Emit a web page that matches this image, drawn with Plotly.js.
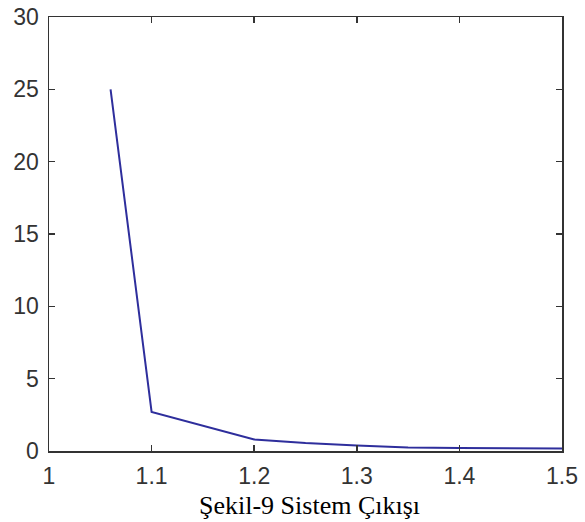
<!DOCTYPE html>
<html>
<head>
<meta charset="utf-8">
<script src="https://cdn.plot.ly/plotly-3.0.1.min.js"></script>
<style>html,body{margin:0;padding:0;background:#fff;}#chart{width:585px;height:522px;}</style>
</head>
<body>
<div id="chart"></div>
<script>
const xValues = [1.06, 1.1, 1.2, 1.25, 1.3, 1.35, 1.4, 1.5];
const yValues = [25.0, 2.7, 0.8, 0.55, 0.38, 0.25, 0.2, 0.18];
const xTicks = [1, 1.1, 1.2, 1.3, 1.4, 1.5];
const xTickLabels = ["1", "1.1", "1.2", "1.3", "1.4", "1.5"];
const yTicks = [0, 5, 10, 15, 20, 25, 30];
const yTickLabels = ["0", "5", "10", "15", "20", "25", "30"];
const caption = "Şekil-9 Sistem Çıkışı";

const axisCommon = {
  showgrid: false, zeroline: false, showline: true, mirror: 'ticks',
  linecolor: '#333', linewidth: 1.5, ticks: 'inside', ticklen: 6, tickwidth: 1.5,
  tickcolor: '#333', tickfont: {family: 'Liberation Sans, Arial, sans-serif', size: 23, color: '#333'},
  tickmode: 'array'
};

Plotly.newPlot('chart', [{
  x: xValues, y: yValues, type: 'scatter', mode: 'lines',
  line: {color: '#2e2e9c', width: 2}
}], {
  width: 585, height: 522,
  margin: {l: 49, r: 23, t: 17, b: 71},
  paper_bgcolor: '#fff', plot_bgcolor: '#fff',
  showlegend: false,
  xaxis: Object.assign({}, axisCommon, {range: [1, 1.5], tickvals: xTicks, ticktext: xTickLabels, ticklabelstandoff: 4}),
  yaxis: Object.assign({}, axisCommon, {range: [0, 30], tickvals: yTicks, ticktext: yTickLabels, ticklabelstandoff: 4}),
  annotations: [{
    text: caption, xref: 'paper', yref: 'paper', x: 0.508, y: 0, yshift: -38,
    xanchor: 'center', yanchor: 'top', showarrow: false,
    font: {family: 'Liberation Serif, Times New Roman, serif', size: 26, color: '#000'}
  }]
}, {staticPlot: true});
</script>
</body>
</html>
